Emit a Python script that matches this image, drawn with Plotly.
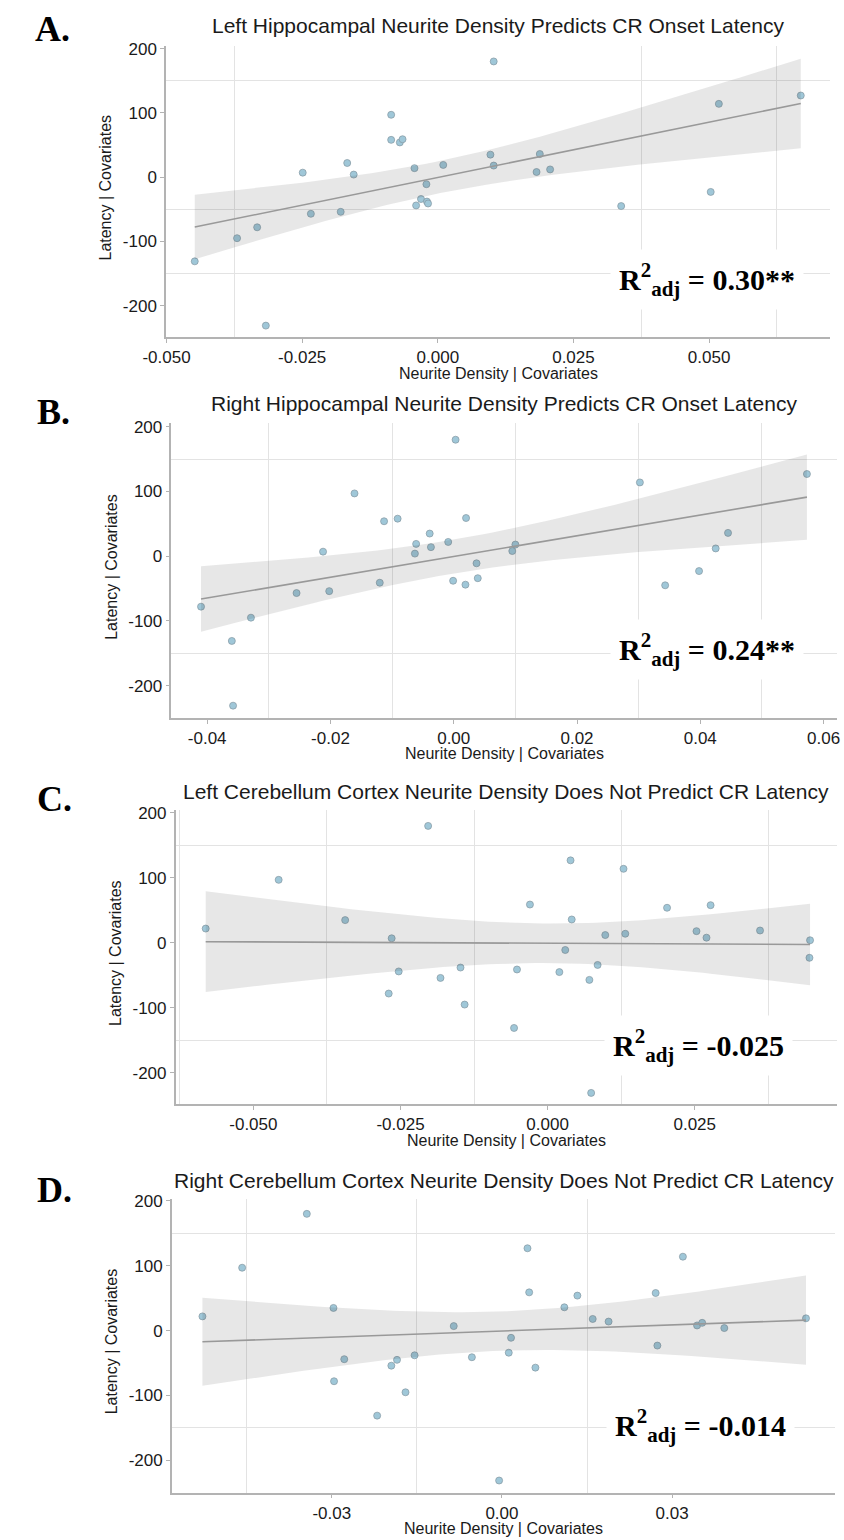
import numpy as np
import plotly.graph_objects as go

W, H = 844, 1540

# ---------------- data ----------------
a_x = [-0.0448, -0.0370, -0.0333, -0.0317, -0.0249, -0.0234, -0.0179, -0.0167, -0.0155, -0.0086,
       -0.0086, -0.0070, -0.0065, -0.0043, -0.0040, -0.0031, -0.0021, -0.0020, -0.0018, 0.0010,
       0.0097, 0.0103, 0.0103, 0.0182, 0.0188, 0.0207, 0.0338, 0.0503, 0.0518, 0.0669]
a_y = [-131, -95, -78, -231, 7, -57, -54, 22, 4, 97,
       58, 54, 59, 14, -44, -34, -11, -38, -41, 19,
       35, 180, 18, 8, 36, 12, -45, -23, 114, 127]

b_x = [-0.0410, -0.0360, -0.0358, -0.0329, -0.0255, -0.0212, -0.0202, -0.0161, -0.0120, -0.0113,
       -0.0091, -0.0063, -0.0061, -0.0039, -0.0037, -0.0009, -0.0001, 0.0003, 0.0019, 0.0020,
       0.0037, 0.0039, 0.0095, 0.0100, 0.0302, 0.0343, 0.0398, 0.0425, 0.0445, 0.0573]
b_y = [-78, -131, -231, -95, -57, 7, -54, 97, -41, 54,
       58, 4, 19, 35, 14, 22, -38, 180, -44, 59,
       -11, -34, 8, 18, 114, -45, -23, 12, 36, 127]

c_x = [-0.0581, -0.0457, -0.0344, -0.0270, -0.0265, -0.0253, -0.0203, -0.0182, -0.0148, -0.0141,
       -0.0057, -0.0052, -0.0030, 0.0020, 0.0030, 0.0039, 0.0041, 0.0071, 0.0074, 0.0085,
       0.0098, 0.0129, 0.0132, 0.0203, 0.0253, 0.0270, 0.0277, 0.0361, 0.0445, 0.0446]
c_y = [22, 97, 35, -78, 7, -44, 180, -54, -38, -95,
       -131, -41, 59, -45, -11, 127, 36, -57, -231, -34,
       12, 114, 14, 54, 18, 8, 58, 19, -23, 4]

d_x = [-0.0528, -0.0458, -0.0344, -0.0297, -0.0296, -0.0278, -0.0220, -0.0195, -0.0185, -0.0170,
       -0.0154, -0.0085, -0.0053, -0.0005, 0.0012, 0.0016, 0.0045, 0.0048, 0.0059, 0.0110,
       0.0133, 0.0160, 0.0188, 0.0271, 0.0274, 0.0319, 0.0344, 0.0353, 0.0392, 0.0536]
d_y = [22, 97, 180, 35, -78, -44, -131, -54, -45, -95,
       -38, 7, -41, -231, -34, -11, 127, 59, -57, 36,
       54, 18, 14, 58, -23, 114, 8, 12, 4, 19]

titles = [
    "Left Hippocampal Neurite Density Predicts CR Onset Latency",
    "Right Hippocampal Neurite Density Predicts CR Onset Latency",
    "Left Cerebellum Cortex Neurite Density Does Not Predict CR Latency",
    "Right Cerebellum Cortex Neurite Density Does Not Predict CR Latency",
]
letters = ["A.", "B.", "C.", "D."]
r2_labels = ["0.30**", "0.24**", "-0.025", "-0.014"]

y_ticks = [-200, -100, 0, 100, 200]
y_ticktext = ["-200", "-100", "0", "100", "200"]
a_xticks = [-0.050, -0.025, 0.000, 0.025, 0.050]
a_xticktext = ["-0.050", "-0.025", "0.000", "0.025", "0.050"]
b_xticks = [-0.04, -0.02, 0.00, 0.02, 0.04, 0.06]
b_xticktext = ["-0.04", "-0.02", "0.00", "0.02", "0.04", "0.06"]
c_xticks = [-0.050, -0.025, 0.000, 0.025]
c_xticktext = ["-0.050", "-0.025", "0.000", "0.025"]
d_xticks = [-0.03, 0.00, 0.03]
d_xticktext = ["-0.03", "0.00", "0.03"]

x_title = "Neurite Density | Covariates"
y_title = "Latency | Covariates"

# ---------------- layout geometry (window pixels) + visible minor grid ----------------
panels = [
    dict(x=a_x, y=a_y, xt=a_xticks, xtt=a_xticktext,
         xgrid=[-0.0375, 0.0375, 0.0625], ygrid=[-150, -50, 150],
         xr=[-0.0501, 0.0723], yr=[-249, 204.3], px=(146.7, 832.7), py=(39, 331.7),
         title_y=19, letter_xy=(29.5, 22.5), r2_xy=(706, 274)),
    dict(x=b_x, y=b_y, xt=b_xticks, xtt=b_xticktext,
         xgrid=[-0.03, -0.01, 0.01, 0.03, 0.05], ygrid=[-150, 150],
         xr=[-0.0458, 0.0622], yr=[-249.7, 205.7], px=(152.3, 840), py=(418, 714),
         title_y=398, letter_xy=(30, 407), r2_xy=(706, 645)),
    dict(x=c_x, y=c_y, xt=c_xticks, xtt=c_xticktext,
         xgrid=[-0.0625, -0.0375, -0.0125, 0.0125, 0.0375], ygrid=[-150, 150],
         xr=[-0.0632, 0.0492], yr=[-248.5, 204], px=(156.7, 840), py=(807, 1102.3),
         title_y=788, letter_xy=(31, 796), r2_xy=(697, 1043)),
    dict(x=d_x, y=d_y, xt=d_xticks, xtt=d_xticktext,
         xgrid=[-0.045, -0.015, 0.015], ygrid=[-150, 150],
         xr=[-0.0582, 0.0588], yr=[-249.5, 203.6], px=(152.7, 838.3), py=(1197, 1492.3),
         title_y=1179, letter_xy=(31, 1188), r2_xy=(699, 1425)),
]

SANS = "Liberation Sans, Arial, sans-serif"
SERIF = "Liberation Serif, Times New Roman, serif"
AXIS_COL = "#b3b3b3"
GRID_COL = "#e3e3e3"
T_CRIT = 2.048  # t(0.975, df=28)

fig = go.Figure()
annotations = []


def px2x(p):
    return p / W


def py2y(p):
    return 1 - p / H


for i, p in enumerate(panels):
    k = "" if i == 0 else str(i + 1)
    xa, ya = "x" + k, "y" + k
    x = np.array(p["x"], dtype=float)
    y = np.array(p["y"], dtype=float)

    # OLS fit and 95% CI of the mean
    n = len(x)
    slope, intercept = np.polyfit(x, y, 1)
    resid = y - (slope * x + intercept)
    s = np.sqrt(np.sum(resid ** 2) / (n - 2))
    xbar = x.mean()
    sxx = np.sum((x - xbar) ** 2)
    xs = np.linspace(x.min(), x.max(), 80)
    yh = slope * xs + intercept
    hw = T_CRIT * s * np.sqrt(1 / n + (xs - xbar) ** 2 / sxx)

    fig.add_trace(go.Scatter(
        x=x, y=y, mode="markers", xaxis=xa, yaxis=ya, showlegend=False,
        marker=dict(size=7, color="#9fc7d8", line=dict(color="#8497a0", width=0.7)),
    ))
    fig.add_trace(go.Scatter(
        x=np.concatenate([xs, xs[::-1]]), y=np.concatenate([yh + hw, (yh - hw)[::-1]]),
        fill="toself", fillcolor="rgba(60,60,60,0.12)", line=dict(width=0),
        mode="lines", xaxis=xa, yaxis=ya, showlegend=False, hoverinfo="skip",
    ))
    fig.add_trace(go.Scatter(
        x=xs, y=yh, mode="lines", line=dict(color="#999999", width=1.6),
        xaxis=xa, yaxis=ya, showlegend=False,
    ))

    axis_common = dict(
        showline=True, linecolor=AXIS_COL, linewidth=1.5, ticks="outside",
        tickcolor=AXIS_COL, ticklen=4, tickwidth=1, zeroline=False, showgrid=False,
        tickfont=dict(family=SANS, size=17, color="#1a1a1a"), fixedrange=True,
    )
    fig.layout["xaxis" + k] = dict(
        axis_common, domain=[px2x(p["px"][0]), px2x(p["px"][1])], range=p["xr"],
        anchor=ya, tickmode="array", tickvals=p["xt"], ticktext=p["xtt"],
        minor=dict(tickmode="array", tickvals=p["xgrid"], showgrid=True,
                   gridcolor=GRID_COL, gridwidth=1, ticks=""),
    )
    fig.layout["yaxis" + k] = dict(
        axis_common, domain=[py2y(p["py"][1]), py2y(p["py"][0])], range=p["yr"],
        anchor=xa, tickmode="array", tickvals=y_ticks, ticktext=y_ticktext,
        minor=dict(tickmode="array", tickvals=p["ygrid"], showgrid=True,
                   gridcolor=GRID_COL, gridwidth=1, ticks=""),
    )

    cx = (p["px"][0] + p["px"][1]) / 2
    cy = (p["py"][0] + p["py"][1]) / 2
    # plot title
    annotations.append(dict(
        text=titles[i], x=px2x(cx), y=py2y(p["title_y"]), xref="paper", yref="paper",
        xanchor="center", yanchor="middle", showarrow=False,
        font=dict(family=SANS, size=21, color="#1a1a1a"),
    ))
    # x axis title
    annotations.append(dict(
        text=x_title, x=px2x(cx), y=py2y(p["py"][1] + 36), xref="paper", yref="paper",
        xanchor="center", yanchor="middle", showarrow=False,
        font=dict(family=SANS, size=16, color="#1a1a1a"),
    ))
    # y axis title
    annotations.append(dict(
        text=y_title, x=px2x(p["px"][0] - 62), y=py2y(cy - 4),
        xref="paper", yref="paper", xanchor="center", yanchor="middle",
        textangle=-90, showarrow=False,
        font=dict(family=SANS, size=16, color="#1a1a1a"),
    ))
    # panel letter
    annotations.append(dict(
        text="<b>" + letters[i] + "</b>", x=px2x(p["letter_xy"][0]), y=py2y(p["letter_xy"][1]),
        xref="paper", yref="paper", xanchor="center", yanchor="middle", showarrow=False,
        font=dict(family=SERIF, size=36, color="black"),
    ))
    # R2 label
    annotations.append(dict(
        text="<b>R<sup>2</sup><sub>adj</sub> = " + r2_labels[i] + "</b>",
        x=px2x(p["r2_xy"][0]), y=py2y(p["r2_xy"][1]), xref="paper", yref="paper",
        xanchor="center", yanchor="middle", showarrow=False, bgcolor="white",
        borderpad=8, font=dict(family=SERIF, size=30, color="black"),
    ))

fig.update_layout(
    width=W, height=H, margin=dict(l=0, r=0, t=0, b=0),
    paper_bgcolor="white", plot_bgcolor="white", annotations=annotations,
    showlegend=False, hovermode=False,
)

# remove the default 8px page margin so the figure fills the window exactly
fig.write_html("out.html", config={"displayModeBar": False},
               post_script="document.body.style.margin='0px';")
